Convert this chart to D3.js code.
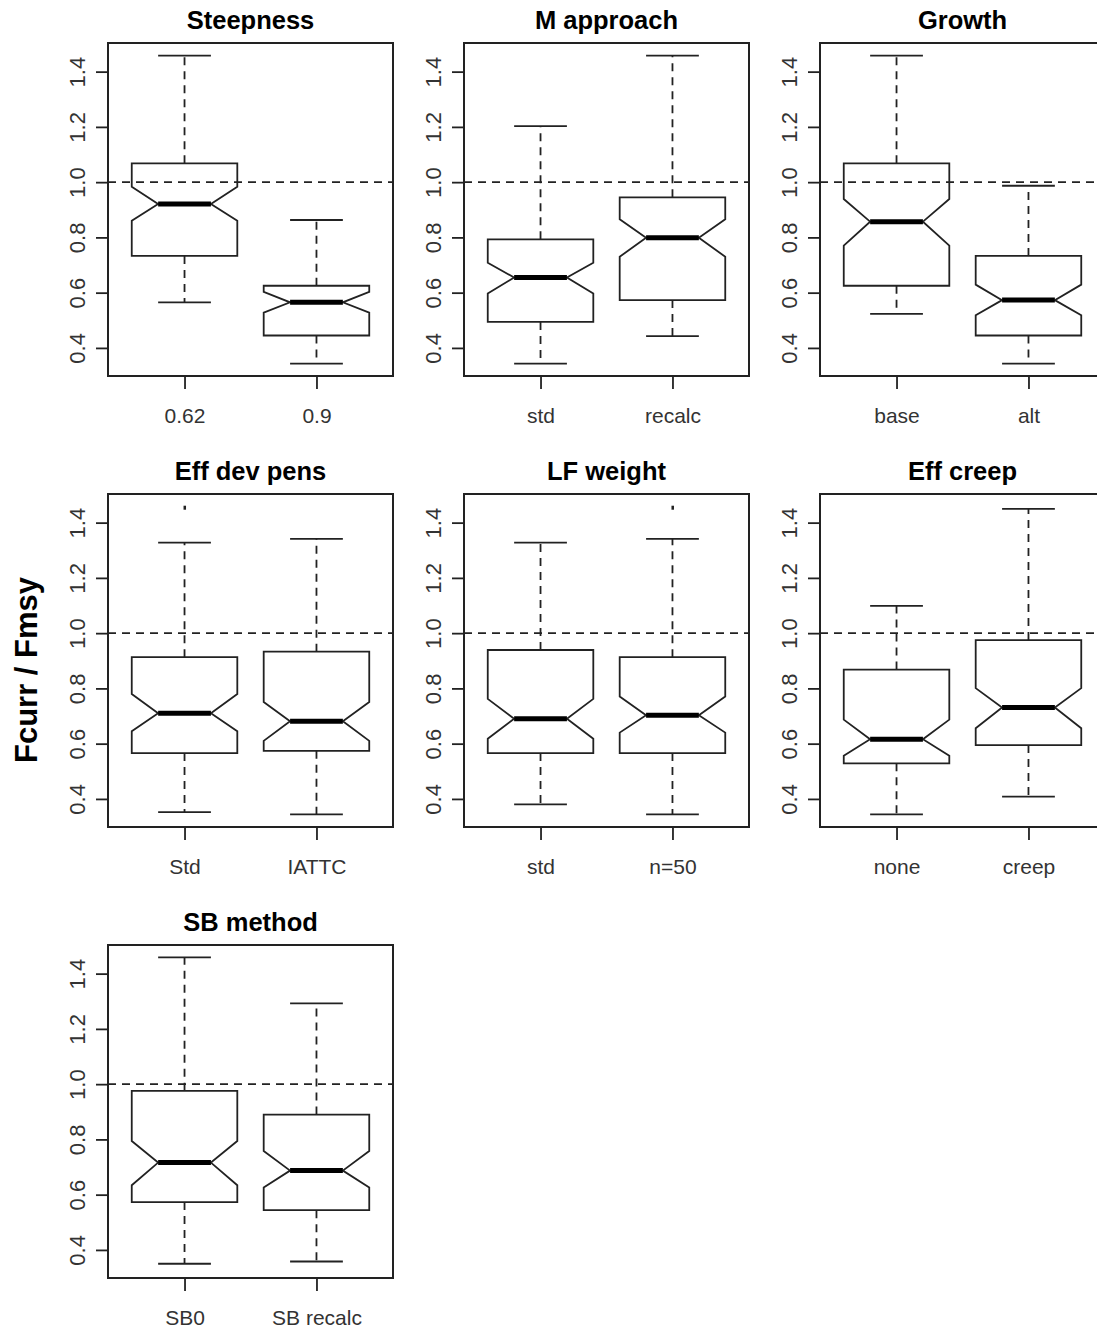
<!DOCTYPE html>
<html>
<head>
<meta charset="utf-8">
<script src="https://cdn.jsdelivr.net/npm/d3@7"></script>
<style>
  html, body { margin: 0; padding: 0; background: #fff; }
  svg { display: block; font-family: "Liberation Sans", Arial, sans-serif; }
</style>
</head>
<body>
<svg id="chart"></svg>
<script>
// --- data ---
const panelTitles = ["Steepness", "M approach", "Growth", "Eff dev pens", "LF weight", "Eff creep", "SB method"];
const groupLabels = [["0.62", "0.9"], ["std", "recalc"], ["base", "alt"], ["Std", "IATTC"], ["std", "n=50"], ["none", "creep"], ["SB0", "SB recalc"]];
const whiskerLow  = [[0.565, 0.343], [0.343, 0.443], [0.523, 0.343], [0.352, 0.344], [0.380, 0.344], [0.344, 0.408], [0.350, 0.358]];
const q1          = [[0.733, 0.445], [0.494, 0.573], [0.625, 0.445], [0.566, 0.574], [0.566, 0.566], [0.529, 0.595], [0.573, 0.544]];
const notchLo     = [[0.860, 0.528], [0.597, 0.730], [0.770, 0.518], [0.645, 0.610], [0.618, 0.640], [0.556, 0.656], [0.634, 0.626]];
const median      = [[0.921, 0.565], [0.655, 0.799], [0.857, 0.573], [0.710, 0.681], [0.690, 0.703], [0.616, 0.731], [0.716, 0.687]];
const notchHi     = [[0.983, 0.603], [0.708, 0.866], [0.939, 0.629], [0.780, 0.751], [0.762, 0.771], [0.687, 0.801], [0.794, 0.758]];
const q3          = [[1.068, 0.625], [0.793, 0.945], [1.068, 0.733], [0.913, 0.933], [0.939, 0.913], [0.868, 0.975], [0.976, 0.890]];
const whiskerHigh = [[1.458, 0.863], [1.203, 1.458], [1.458, 0.987], [1.328, 1.341], [1.328, 1.341], [1.099, 1.450], [1.459, 1.292]];
const outliers    = [[[], []], [[], []], [[], []], [[1.454], []], [[], [1.454]], [[], []], [[], []]];
const yTicks = [0.4, 0.6, 0.8, 1.0, 1.2, 1.4];
const refLine = 1.0;
const yLabel = "Fcurr / Fmsy";

// --- layout ---
const svgW = 1097, svgH = 1331;
const panelW = 285, panelH = 333;
const colX = [108, 464, 820];
const rowY = [43, 494, 945];
const ink = "#222";
const dash = "8,6";

const root = d3.select("#chart").attr("width", svgW).attr("height", svgH);

// common y range like R: data range + 4%
const lo = d3.min(whiskerLow.flat()), hi = d3.max(whiskerHigh.flat());
const pad = (hi - lo) * 0.04;
const y = d3.scaleLinear().domain([lo - pad, hi + pad]).range([panelH, 0]);
const x = d3.scaleLinear().domain([0.42, 2.58]).range([0, panelW]);

const boxHalf = 0.4, notchFrac = 0.5, stapleHalf = 0.2;

panelTitles.forEach((title, i) => {
  const g = root.append("g")
    .attr("transform", `translate(${colX[i % 3]},${rowY[Math.floor(i / 3)]})`);

  // boxes
  [0, 1].forEach(j => {
    const cx = j + 1;
    const wl = whiskerLow[i][j], a = q1[i][j], nl = notchLo[i][j], m = median[i][j],
          nh = notchHi[i][j], b = q3[i][j], wh = whiskerHigh[i][j];

    // whiskers (dashed)
    g.append("line")
      .attr("x1", x(cx)).attr("x2", x(cx)).attr("y1", y(b)).attr("y2", y(wh))
      .attr("stroke", ink).attr("stroke-width", 1.8).attr("stroke-dasharray", dash);
    g.append("line")
      .attr("x1", x(cx)).attr("x2", x(cx)).attr("y1", y(a)).attr("y2", y(wl))
      .attr("stroke", ink).attr("stroke-width", 1.8).attr("stroke-dasharray", dash);
    // staples
    [wl, wh].forEach(v => {
      g.append("line")
        .attr("x1", x(cx - stapleHalf)).attr("x2", x(cx + stapleHalf))
        .attr("y1", y(v)).attr("y2", y(v))
        .attr("stroke", ink).attr("stroke-width", 1.8);
    });

    // notched box
    const pts = [
      [cx - boxHalf, a], [cx + boxHalf, a], [cx + boxHalf, nl], [cx + boxHalf * notchFrac, m],
      [cx + boxHalf, nh], [cx + boxHalf, b], [cx - boxHalf, b], [cx - boxHalf, nh],
      [cx - boxHalf * notchFrac, m], [cx - boxHalf, nl]
    ];
    g.append("polygon")
      .attr("points", pts.map(p => `${x(p[0])},${y(p[1])}`).join(" "))
      .attr("fill", "#fff").attr("stroke", ink).attr("stroke-width", 1.8)
      .attr("stroke-linejoin", "miter");

    // median
    g.append("line")
      .attr("x1", x(cx - boxHalf * notchFrac)).attr("x2", x(cx + boxHalf * notchFrac))
      .attr("y1", y(m)).attr("y2", y(m))
      .attr("stroke", "#000").attr("stroke-width", 5);

    // outliers
    outliers[i][j].forEach(v => {
      g.append("rect")
        .attr("x", x(cx) - 1).attr("y", y(v) - 2)
        .attr("width", 2.5).attr("height", 4).attr("fill", ink);
    });
  });

  // reference line
  g.append("line")
    .attr("x1", 0).attr("x2", panelW).attr("y1", y(refLine)).attr("y2", y(refLine))
    .attr("stroke", ink).attr("stroke-width", 1.8).attr("stroke-dasharray", dash);

  // frame
  g.append("rect")
    .attr("x", 0).attr("y", 0).attr("width", panelW).attr("height", panelH)
    .attr("fill", "none").attr("stroke", ink).attr("stroke-width", 2);

  // y axis
  const yAxis = d3.axisLeft(y).tickValues(yTicks).tickFormat(d3.format(".1f"))
    .tickSize(12).tickPadding(0);
  const ya = g.append("g").call(yAxis);
  ya.select(".domain").remove();
  ya.selectAll(".tick line").attr("stroke", ink).attr("stroke-width", 1.8);
  ya.selectAll(".tick text")
    .attr("x", null).attr("dy", null)
    .attr("transform", "translate(-23,0) rotate(-90)")
    .attr("text-anchor", "middle")
    .style("font-size", "22px").style("fill", "#333");

  // x axis
  const xAxis = d3.axisBottom(x).tickValues([1, 2]).tickFormat(d => groupLabels[i][d - 1])
    .tickSize(13).tickPadding(0);
  const xa = g.append("g").attr("transform", `translate(0,${panelH})`).call(xAxis);
  xa.select(".domain").remove();
  xa.selectAll(".tick line").attr("stroke", ink).attr("stroke-width", 1.8);
  xa.selectAll(".tick text")
    .attr("y", 47).attr("dy", null)
    .style("font-size", "21px").style("fill", "#333");

  // title
  g.append("text")
    .attr("x", panelW / 2).attr("y", -14)
    .attr("text-anchor", "middle")
    .style("font-size", "25.5px").style("font-weight", "700").style("fill", "#000")
    .text(title);
});

// shared y label
root.append("text")
  .attr("transform", "translate(37,670) rotate(-90)")
  .attr("text-anchor", "middle")
  .style("font-size", "31px").style("font-weight", "700").style("fill", "#000")
  .text(yLabel);
</script>
</body>
</html>
